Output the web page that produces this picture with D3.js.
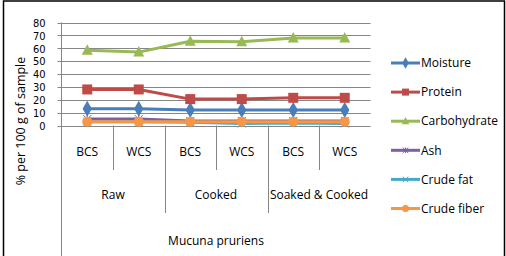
<!DOCTYPE html>
<html>
  <head>
    <title></title>
    <script src="https://d3js.org/d3.v7.min.js"></script>
    <style type="text/css">
      body {
        margin: 0;
        background: #ffffff;
      }
      svg text {
        font-family: 'Liberation Sans Narrow', 'Open Sans', sans-serif;
        fill: #000000;
      }
      svg .tick text {
        font-family: 'DejaVu Sans Condensed', 'DejaVu Sans', sans-serif;
      }
    </style>
  </head>
  <body>
    <div class="chart"></div>
    <script type="text/javascript">
      var categories = ['BCS', 'WCS', 'BCS', 'WCS', 'BCS', 'WCS'];
      var groups = ['Raw', 'Cooked', 'Soaked & Cooked'];
      var outerLabel = 'Mucuna pruriens';
      var yTicks = [0, 10, 20, 30, 40, 50, 60, 70, 80];

      var moisture = [13, 13, 12, 12, 12, 12];
      var protein = [28, 28, 20.5, 20.5, 21.5, 21.5];
      var carbohydrate = [58.5, 57, 65.5, 65, 68, 68];
      var ash = [5, 5, 3.5, 3.5, 3.5, 3.5];
      var crudeFat = [3, 3, 2.5, 1.5, 2, 1.5];
      var crudeFiber = [3, 3, 3, 3, 3, 3];

      var series = [
        {name: 'Moisture', values: moisture, color: '#4a7ebb', marker: 'diamond'},
        {name: 'Protein', values: protein, color: '#be4b48', marker: 'square'},
        {name: 'Carbohydrate', values: carbohydrate, color: '#98b954', marker: 'triangle'},
        {name: 'Ash', values: ash, color: '#7d60a0', marker: 'star'},
        {name: 'Crude fat', values: crudeFat, color: '#46aac5', marker: 'cross'},
        {name: 'Crude fiber', values: crudeFiber, color: '#f79646', marker: 'circle'}
      ];

      var width = 506;
      var height = 256;
      var plotLeft = 61.5;
      var plotRight = 370.5;
      var plotTop = 22.5;
      var plotBottom = 125.5;
      var fontSize = '12px';

      var svg = d3.select('.chart').append('svg')
        .attr('width', width)
        .attr('height', height);

      // outer border
      svg.append('path')
        .attr('d', 'M3.5,' + height + 'V1H504.5V' + height)
        .attr('fill', 'none')
        .attr('stroke', '#000')
        .attr('stroke-width', 1.5);

      var idx = d3.range(categories.length);
      var x = d3.scaleBand().domain(idx).range([plotLeft, plotRight]);
      var y = d3.scaleLinear().domain([0, 80]).range([plotBottom, plotTop]);

      // gridlines
      svg.append('g').selectAll('line')
        .data(yTicks)
        .enter()
        .append('line')
          .attr('x1', plotLeft - 4)
          .attr('x2', plotRight)
          .attr('y1', function(d){return Math.round(y(d)) + 0.5})
          .attr('y2', function(d){return Math.round(y(d)) + 0.5})
          .attr('stroke', '#868686')
          .attr('stroke-width', 1);

      // y axis
      var yAxis = svg.append('g')
        .attr('transform', 'translate(' + plotLeft + ',0)')
        .call(d3.axisLeft(y).tickValues(yTicks).tickSize(4).tickPadding(12));
      yAxis.select('.domain').remove();
      yAxis.selectAll('line').remove();
      yAxis.selectAll('text').style('font-size', '11px').attr('dy', '0.35em');

      // left axis line reaches down through the category levels
      svg.append('line')
        .attr('x1', plotLeft).attr('x2', plotLeft)
        .attr('y1', plotTop).attr('y2', height)
        .attr('stroke', '#868686');

      // category separators
      svg.append('g').selectAll('line')
        .data([1, 3, 5])
        .enter()
        .append('line')
          .attr('x1', function(d){return Math.round(x(d)) + 0.5})
          .attr('x2', function(d){return Math.round(x(d)) + 0.5})
          .attr('y1', plotBottom)
          .attr('y2', 170)
          .attr('stroke', '#868686');

      svg.append('g').selectAll('line')
        .data([2, 4])
        .enter()
        .append('line')
          .attr('x1', function(d){return Math.round(x(d)) + 0.5})
          .attr('x2', function(d){return Math.round(x(d)) + 0.5})
          .attr('y1', plotBottom)
          .attr('y2', 213)
          .attr('stroke', '#868686');

      svg.append('g').selectAll('text')
        .data(idx)
        .enter()
        .append('text')
          .attr('x', function(d){return x(d) + x.bandwidth() / 2})
          .attr('y', 152)
          .attr('dy', '0.35em')
          .attr('text-anchor', 'middle')
          .style('font-size', fontSize)
          .text(function(d){return categories[d]});

      svg.append('g').selectAll('text')
        .data(groups)
        .enter()
        .append('text')
          .attr('x', function(d, i){return x(i * 2) + x.bandwidth()})
          .attr('y', 195)
          .attr('dy', '0.35em')
          .attr('text-anchor', 'middle')
          .style('font-size', fontSize)
          .text(function(d){return d});

      svg.append('text')
        .attr('x', (plotLeft + plotRight) / 2)
        .attr('y', 241)
        .attr('dy', '0.35em')
        .attr('text-anchor', 'middle')
        .style('font-size', fontSize)
        .text(outerLabel);

      svg.append('text')
        .attr('transform', 'translate(21,121) rotate(-90)')
        .attr('dy', '0.35em')
        .attr('text-anchor', 'middle')
        .style('font-size', '12.5px')
        .text('% per 100 g of sample');

      function drawMarker (g, type, color, size) {
        var s = size;
        if (type == 'diamond') {
          g.append('path').attr('d', d3.symbol().type(d3.symbolDiamond).size(s * s * 0.75)).attr('fill', color);
        }
        else if (type == 'square') {
          g.append('rect').attr('x', -s / 2).attr('y', -s / 2).attr('width', s).attr('height', s).attr('fill', color);
        }
        else if (type == 'triangle') {
          g.append('path').attr('d', 'M0,' + (-s * 0.6) + 'L' + (s * 0.55) + ',' + (s * 0.45) + 'L' + (-s * 0.55) + ',' + (s * 0.45) + 'Z').attr('fill', color);
        }
        else if (type == 'circle') {
          g.append('circle').attr('r', s / 2).attr('fill', color);
        }
        else {
          var h = s * 0.4;
          g.append('path')
            .attr('d', 'M' + (-h) + ',' + (-h) + 'L' + h + ',' + h + 'M' + (-h) + ',' + h + 'L' + h + ',' + (-h) +
              (type == 'star' ? 'M0,' + (-h) + 'V' + h : ''))
            .attr('stroke', color)
            .attr('stroke-width', 1)
            .attr('fill', 'none');
        }
      }

      var line = d3.line()
        .x(function(d, i){return x(i) + x.bandwidth() / 2})
        .y(function(d){return y(d)});

      series.forEach(function(s) {
        var g = svg.append('g');
        g.append('path')
          .attr('d', line(s.values))
          .attr('fill', 'none')
          .attr('stroke', s.color)
          .attr('stroke-width', 3)
          .attr('stroke-linejoin', 'round');
        s.values.forEach(function(v, i) {
          var m = g.append('g').attr('transform', 'translate(' + (x(i) + x.bandwidth() / 2) + ',' + y(v) + ')');
          drawMarker(m, s.marker, s.color, 10);
        });
      });

      // legend
      var legend = svg.append('g').selectAll('g')
        .data(series)
        .enter()
        .append('g')
          .attr('transform', function(d, i){return 'translate(391,' + (63 + i * 29.1) + ')'});

      legend.append('line')
        .attr('x1', 0).attr('x2', 29)
        .attr('stroke', function(d){return d.color})
        .attr('stroke-width', 3);

      legend.each(function(d) {
        var m = d3.select(this).append('g').attr('transform', 'translate(14.5,0)');
        drawMarker(m, d.marker, d.color, 7);
      });

      legend.append('text')
        .attr('x', 30)
        .attr('dy', '0.35em')
        .style('font-size', fontSize)
        .text(function(d){return d.name});
    </script>
  </body>
</html>
